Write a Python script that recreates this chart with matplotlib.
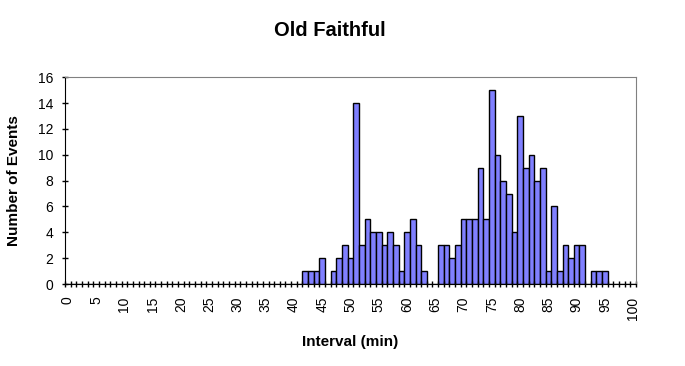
import matplotlib.pyplot as plt
import numpy as np

plt.rcParams['font.family'] = ['Liberation Sans', 'DejaVu Sans']

# Intervall i minutter (0-100) og antall utbrudd
intervals = np.arange(0, 101)
counts = np.zeros(101, dtype=int)
values = {
    42: 1, 43: 1, 44: 1, 45: 2, 47: 1, 48: 2, 49: 3, 50: 2, 51: 14,
    52: 3, 53: 5, 54: 4, 55: 4, 56: 3, 57: 4, 58: 3, 59: 1, 60: 4,
    61: 5, 62: 3, 63: 1, 66: 3, 67: 3, 68: 2, 69: 3, 70: 5, 71: 5,
    72: 5, 73: 9, 74: 5, 75: 15, 76: 10, 77: 8, 78: 7, 79: 4, 80: 13,
    81: 9, 82: 10, 83: 8, 84: 9, 85: 1, 86: 6, 87: 1, 88: 3, 89: 2,
    90: 3, 91: 3, 93: 1, 94: 1, 95: 1,
}
for k, v in values.items():
    counts[k] = v

y_ticks = np.arange(0, 17, 2)
label_ticks = np.arange(0, 101, 5)

fig = plt.figure(figsize=(6.85, 3.66), dpi=100)
ax = fig.add_axes([0.0949, 0.224, 0.9285 - 0.0949, 0.7888 - 0.224])

ax.bar(intervals, counts, width=1.0, color="#8080FF", edgecolor="black", linewidth=1.0)

ax.set_xlim(-0.5, 100.5)
ax.set_ylim(0, 16)

# Kryssende streker mellom kategoriene, tall hver femte
ax.set_xticks(np.arange(-0.5, 101, 1.0))
ax.set_xticklabels([])
ax.set_xticks(label_ticks, minor=True)
ax.set_xticklabels([str(t) for t in label_ticks], minor=True, rotation=90)
ax.tick_params(axis='x', which='major', direction='inout', length=5, width=1)
ax.tick_params(axis='x', which='minor', length=0, pad=9, labelsize=10)

ax.set_yticks(y_ticks)
ax.tick_params(axis='y', direction='inout', length=5, width=1, labelsize=10, pad=6)

ax.spines['top'].set_color('#808080')
ax.spines['right'].set_color('#808080')

ax.set_xlabel("Interval (min)", fontsize=11, fontweight='bold')
ax.xaxis.set_label_coords(0.5, -0.246)
ax.set_ylabel("Number of Events", fontsize=11, fontweight='bold')
ax.yaxis.set_label_coords(-0.077, 0.5)
fig.text(0.482, 0.918, "Old Faithful", fontsize=14.5, fontweight='bold', ha='center', va='center')

fig.savefig("out.png", dpi=100)
